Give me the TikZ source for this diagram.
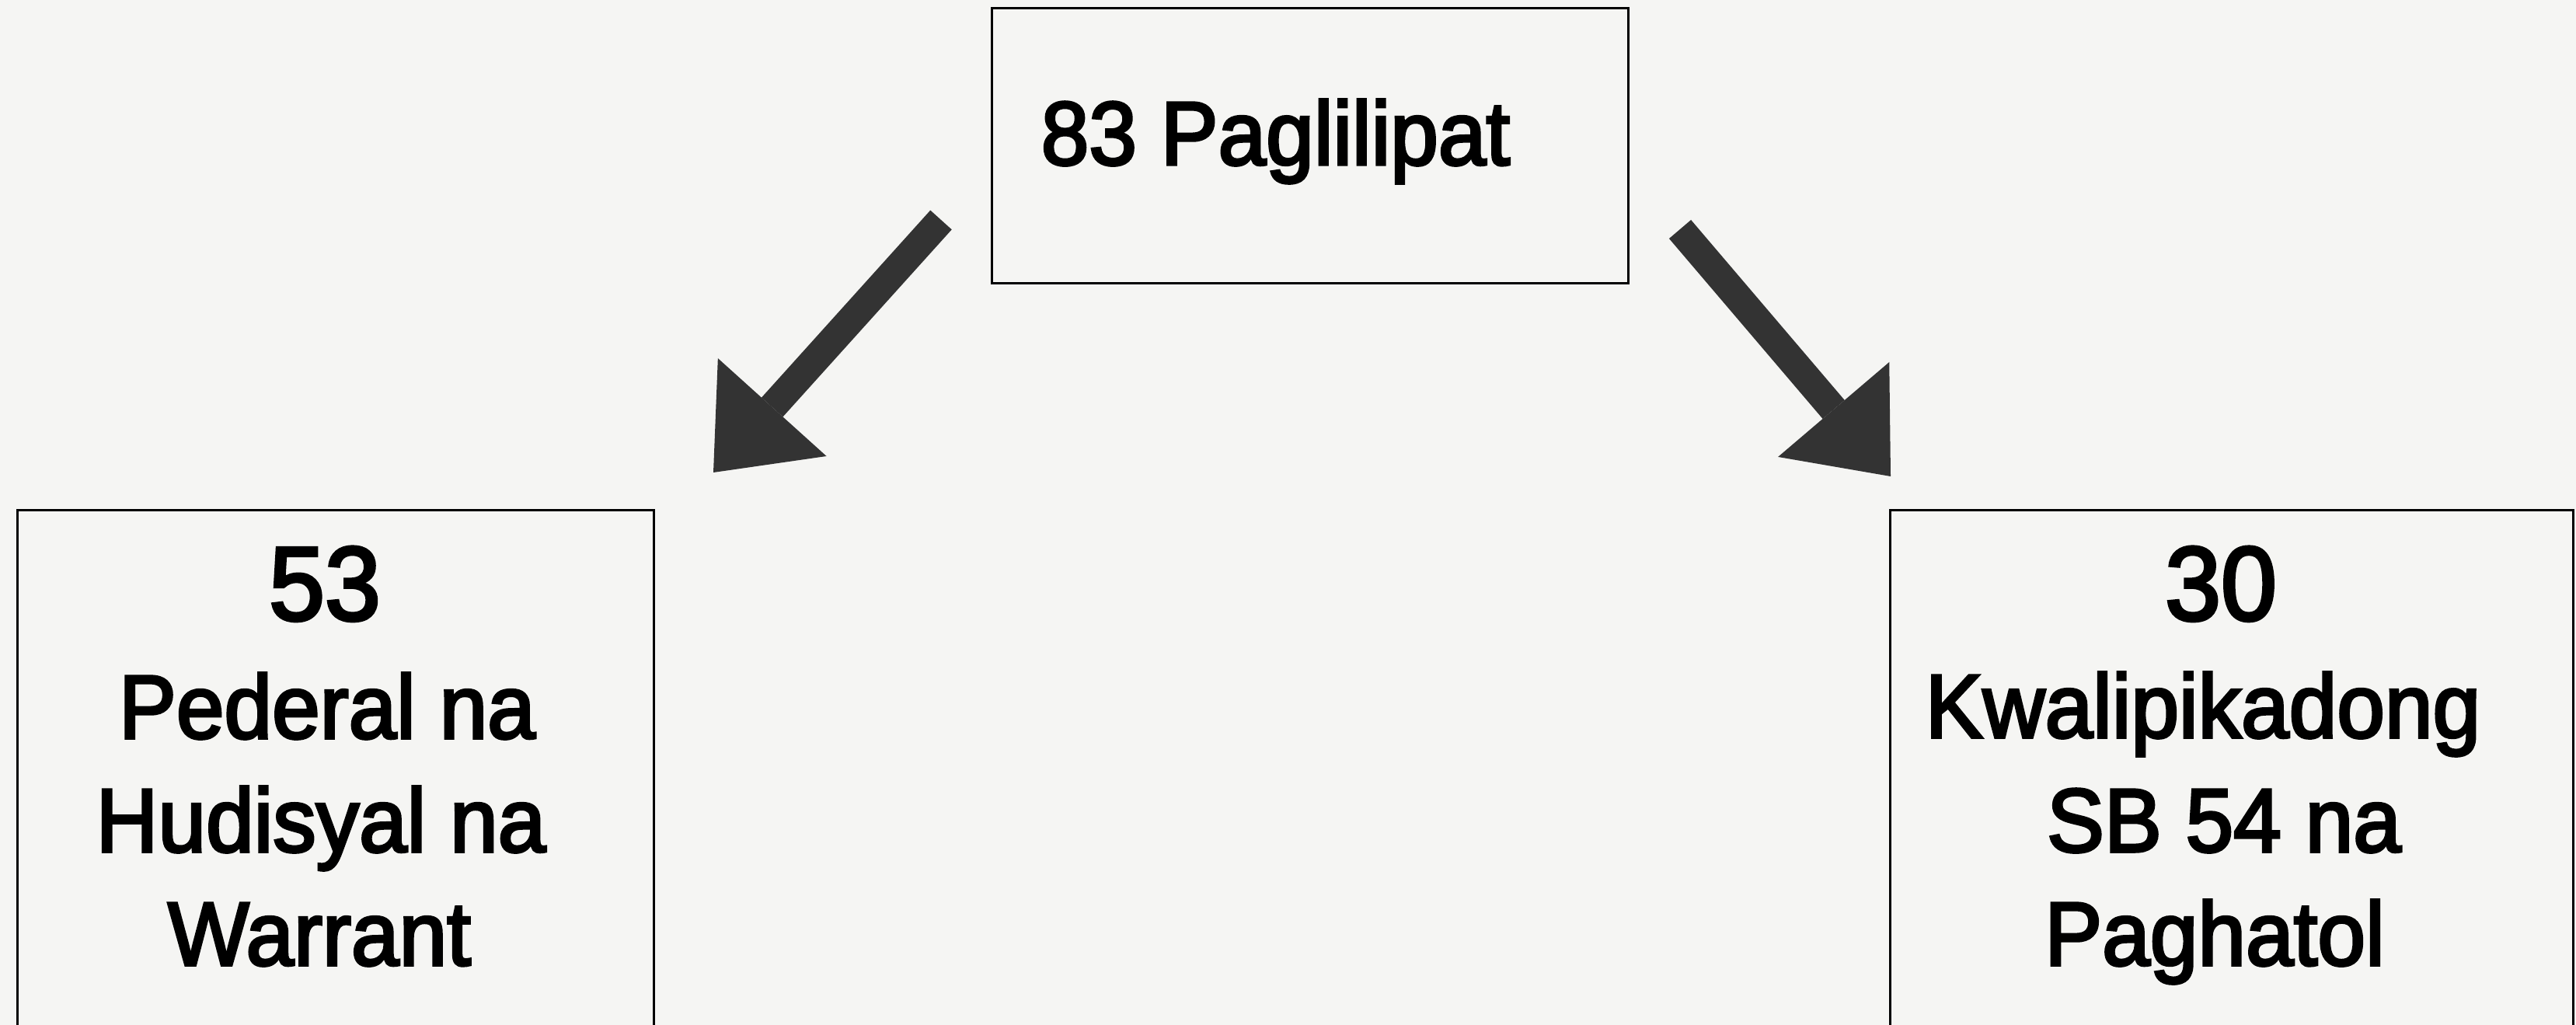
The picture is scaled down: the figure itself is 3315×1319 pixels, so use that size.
\documentclass[tikz,border=0pt]{standalone}
\usepackage{fontspec}
\setmainfont[FakeStretch=0.955,FakeBold=3]{Liberation Sans}
\usetikzlibrary{arrows.meta}
\definecolor{bg}{HTML}{F5F5F3}
\definecolor{arrowgray}{HTML}{333333}
\begin{document}
\begin{tikzpicture}[x=0.01cm,y=-0.01cm,
  box/.style={draw=black, line width=0.03cm, fill=none, inner sep=0pt},
  lbl/.style={inner sep=0pt, anchor=base, font=\fontsize{33}{40}\selectfont},
  biglbl/.style={inner sep=0pt, anchor=base, font=\fontsize{38.5}{46}\selectfont},
  bigarrow/.style={draw=arrowgray, line width=0.37cm,
    -{Triangle[length=1.13cm,width=1.88cm,line width=0pt,fill=arrowgray]}}]
\fill[bg] (0,0) rectangle (3315,1319);
\useasboundingbox (0,0) rectangle (3315,1319);
\clip (0,0) rectangle (3315,1319);
% boxes
\node[box, minimum width=8.18cm, minimum height=3.53cm] (top) at (1686,187.5) {};
\node[box, minimum width=8.18cm, minimum height=7.43cm] (leftbox) at (432,1028.5) {};
\node[box, minimum width=8.78cm, minimum height=7.43cm] (rightbox) at (2872,1028.5) {};
% top text
\node[lbl, anchor=base west] (toptext) at (1339,212) {83 Paglilipat};
% left texts
\node[biglbl] (l1) at (418,798) {53};
\node[lbl] (l2) at (421,950) {Pederal na};
\node[lbl] (l3) at (413,1096) {Hudisyal na};
\node[lbl] (l4) at (411,1242) {Warrant};
% right texts
\node[biglbl] (r1) at (2858,798) {30};
\node[lbl] (r2) at (2835,949) {Kwalipikadong};
\node[lbl] (r3) at (2862,1096) {SB 54 na};
\node[lbl] (r4) at (2850,1242) {Paghatol};
% arrows
\coordinate (las) at (1211,283);
\coordinate (lae) at (918,608);
\coordinate (ras) at (2162,295);
\coordinate (rae) at (2433,613);
\draw[bigarrow] (las) -- (lae);
\draw[bigarrow] (ras) -- (rae);
\end{tikzpicture}
\end{document}
